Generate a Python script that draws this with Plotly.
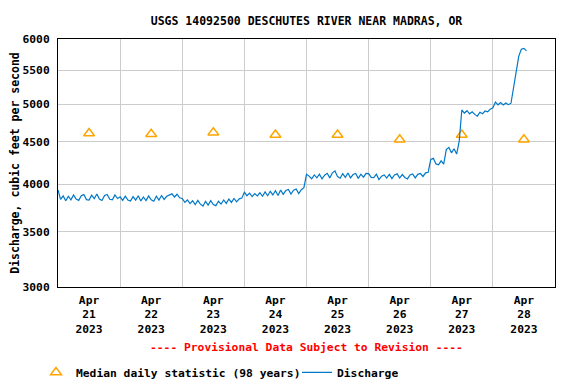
import math
import pandas as pd
import plotly.graph_objects as go

# ---------------- data ----------------
title_text = "USGS 14092500 DESCHUTES RIVER NEAR MADRAS, OR"
y_title = "Discharge, cubic feet per second"
provisional = "---- Provisional Data Subject to Revision ----"

day_starts = ["2023-04-21", "2023-04-22", "2023-04-23", "2023-04-24",
              "2023-04-25", "2023-04-26", "2023-04-27", "2023-04-28", "2023-04-29"]
day_noons = ["2023-04-21 12:00", "2023-04-22 12:00", "2023-04-23 12:00", "2023-04-24 12:00",
             "2023-04-25 12:00", "2023-04-26 12:00", "2023-04-27 12:00", "2023-04-28 12:00"]
day_labels = ["Apr<br>21<br>2023", "Apr<br>22<br>2023", "Apr<br>23<br>2023", "Apr<br>24<br>2023",
              "Apr<br>25<br>2023", "Apr<br>26<br>2023", "Apr<br>27<br>2023", "Apr<br>28<br>2023"]

# median daily statistic (98 years), one per day at noon
median_daily = [4610, 4600, 4620, 4590, 4590, 4530, 4590, 4530]

# hourly discharge readings (cfs), starting 2023-04-21 00:00
q_apr21 = [3935, 3832, 3870, 3818, 3866, 3828, 3880, 3835, 3822, 3872, 3884, 3830,
           3826, 3878, 3840, 3890, 3836, 3820, 3874, 3886, 3834, 3828, 3880, 3842]
q_apr22 = [3860, 3822, 3868, 3826, 3814, 3862, 3824, 3872, 3816, 3858, 3820, 3870,
           3828, 3812, 3866, 3825, 3874, 3832, 3866, 3876, 3892, 3858, 3888, 3850]
q_apr23 = [3842, 3800, 3826, 3788, 3818, 3776, 3822, 3782, 3762, 3812, 3772, 3818,
           3778, 3766, 3812, 3782, 3826, 3790, 3836, 3800, 3842, 3806, 3838, 3846]
q_apr24 = [3910, 3872, 3900, 3862, 3896, 3870, 3904, 3866, 3914, 3872, 3920, 3880,
           3926, 3874, 3934, 3886, 3928, 3940, 3890, 3932, 3946, 3896, 3938, 3960]
q_apr25 = [4110, 4090, 4060, 4104, 4070, 4112, 4058, 4100, 4122, 4070, 4128, 4150,
           4084, 4066, 4118, 4076, 4126, 4070, 4108, 4120, 4064, 4112, 4078, 4122]
q_apr26 = [4118, 4076, 4072, 4112, 4050, 4090, 4104, 4068, 4110, 4062, 4104, 4116,
           4068, 4108, 4074, 4058, 4104, 4114, 4070, 4110, 4120, 4086, 4128, 4134]
q_apr27 = [4285, 4300, 4232, 4222, 4268, 4228, 4405, 4432, 4365, 4415, 4350, 4510,
           4920, 4878, 4910, 4868, 4896, 4860, 4836, 4890, 4870, 4906, 4896, 4932]
q_apr28 = [4950, 5030, 4992, 5022, 4990, 5018, 4994, 5014, 5260, 5450, 5720, 5830,
           5845, 5805]

discharge = q_apr21 + q_apr22 + q_apr23 + q_apr24 + q_apr25 + q_apr26 + q_apr27 + q_apr28
times = pd.date_range("2023-04-21 00:00", periods=len(discharge), freq="h")

y_ticks = [3000, 3500, 4000, 4500, 5000, 5500, 6000]

# ---------------- figure ----------------
FONT = "DejaVu Sans Mono"
fig = go.Figure()

fig.add_trace(go.Scatter(
    x=day_noons, y=median_daily, mode="markers",
    name="Median daily statistic (98 years)",
    marker=dict(symbol="triangle-up-open", size=9.5, color="#FFA500",
                line=dict(width=1.5, color="#FFA500")),
    legend="legend",
))
fig.add_trace(go.Scatter(
    x=times, y=discharge, mode="lines", name="Discharge",
    line=dict(color="#0078c8", width=1.2),
    legend="legend2",
))

LEG_Y = 1 - 372.3 / 384
fig.update_layout(
    width=576, height=384,
    margin=dict(l=58, r=21, t=39, b=97),
    paper_bgcolor="white", plot_bgcolor="white",
    font=dict(family=FONT, size=11.3, color="black", weight="bold"),
    title=dict(text=title_text, x=306.5 / 576, xanchor="center",
               y=1 - 21 / 384, yanchor="middle",
               font=dict(family=FONT, size=11.5, color="black", weight="bold")),
    legend=dict(orientation="h", xref="container", yref="container",
                x=36 / 576, xanchor="left", y=LEG_Y, yanchor="middle",
                bgcolor="rgba(0,0,0,0)", font=dict(family=FONT, size=11.3, weight="bold")),
    legend2=dict(orientation="h", xref="container", yref="container",
                 x=297 / 576, xanchor="left", y=LEG_Y, yanchor="middle",
                 bgcolor="rgba(0,0,0,0)", font=dict(family=FONT, size=11.3, weight="bold")),
    showlegend=True,
)

fig.update_xaxes(
    type="date", range=[day_starts[0], day_starts[-1]], automargin=False,
    tickmode="array", tickvals=day_noons, ticktext=day_labels,
    showgrid=False, ticks="", ticklabelstandoff=2,
    minor=dict(tickmode="array", tickvals=day_starts, showgrid=True,
               gridcolor="#cccccc", gridwidth=1, ticks=""),
    showline=True, mirror=True, linecolor="black", linewidth=1, zeroline=False,
    tickfont=dict(family=FONT, size=11.3, weight="bold"),
)
fig.update_yaxes(
    type="log", range=[math.log10(3000), math.log10(6000)], automargin=False,
    tickmode="array", tickvals=y_ticks, ticktext=[str(v) for v in y_ticks],
    showgrid=True, gridcolor="#cccccc", gridwidth=1, ticks="", ticklabelstandoff=5,
    showline=True, mirror=True, linecolor="black", linewidth=1, zeroline=False,
    title=dict(text=y_title, standoff=0, font=dict(family=FONT, size=11.5, weight="bold")),
    tickfont=dict(family=FONT, size=11.3, weight="bold"),
)

fig.add_annotation(text=provisional, xref="paper", yref="paper", x=0.5,
                   y=(287 - 347.4) / 248, yanchor="middle", showarrow=False,
                   font=dict(family=FONT, size=11.3, color="red", weight="bold"))

fig.write_html("out.html", config={"displayModeBar": False},
               post_script="document.body.style.margin='0';document.body.style.overflow='hidden';")
